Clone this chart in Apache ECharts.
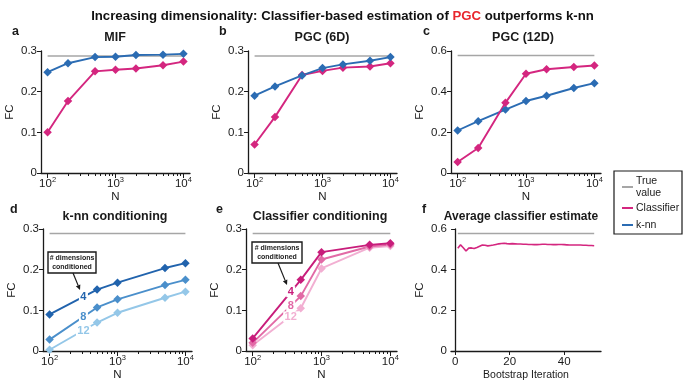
<!DOCTYPE html>
<html>
<head>
<meta charset="UTF-8">
<script src="https://cdn.jsdelivr.net/npm/echarts@6/dist/echarts.min.js"></script>
<style>
html, body { margin: 0; padding: 0; background: #fff; }
#main { width: 685px; height: 384px; }
</style>
</head>
<body>
<div id="main"></div>
<script>
// sample sizes
var nFull = [100, 200, 500, 1000, 2000, 5000, 10000];
var nCond = [100, 500, 1000, 5000, 10000];

// top row
var mifClassifier = [0.100, 0.177, 0.250, 0.254, 0.257, 0.265, 0.274];
var mifKnn = [0.248, 0.270, 0.285, 0.286, 0.290, 0.291, 0.293];
var pgc6Classifier = [0.070, 0.138, 0.241, 0.251, 0.259, 0.262, 0.270];
var pgc6Knn = [0.190, 0.213, 0.240, 0.258, 0.267, 0.276, 0.285];
var pgc12Classifier = [0.054, 0.123, 0.345, 0.488, 0.510, 0.521, 0.529];
var pgc12Knn = [0.209, 0.255, 0.312, 0.354, 0.380, 0.418, 0.442];

// bottom row, conditioning on 4 / 8 / 12 dims
var knnCond4 = [0.090, 0.151, 0.168, 0.204, 0.216];
var knnCond8 = [0.028, 0.107, 0.127, 0.162, 0.175];
var knnCond12 = [0.003, 0.070, 0.094, 0.131, 0.146];
var clsCond4 = [0.031, 0.175, 0.243, 0.261, 0.265];
var clsCond8 = [0.020, 0.135, 0.225, 0.257, 0.262];
var clsCond12 = [0.014, 0.105, 0.203, 0.254, 0.258];

// running average of classifier estimate (iterations 1..51)
var bootstrapAvg = [
  0.505, 0.522, 0.508, 0.492, 0.506, 0.507, 0.504, 0.509, 0.515, 0.521,
  0.520, 0.517, 0.519, 0.521, 0.524, 0.527, 0.529, 0.530, 0.528, 0.527,
  0.528, 0.527, 0.526, 0.526, 0.525, 0.525, 0.524, 0.524, 0.523, 0.523,
  0.524, 0.525, 0.525, 0.524, 0.524, 0.523, 0.523, 0.524, 0.524, 0.523,
  0.522, 0.521, 0.521, 0.521, 0.521, 0.521, 0.520, 0.520, 0.519, 0.519, 0.518
];

// true FC per panel a..f
var trueValue = [0.288, 0.288, 0.578, 0.289, 0.289, 0.578];

var yTicksLow = [0, 0.1, 0.2, 0.3];
var yTicksHigh = [0, 0.2, 0.4, 0.6];
var xTickLabels = [100, 1000, 10000];
var bootTicks = [0, 20, 40];

var FONT = 'Liberation Sans, Arial, sans-serif';
var INK = '#1a1a1a';
var GREY = '#a6a6a6';
var PINK = '#d4267f';
var BLUE = '#2b6cb3';
var BLUES = ['#2163ad', '#4a8fcb', '#94c7e8'];
var PINKS = ['#c81d7b', '#e26aa6', '#f2afd2'];
var TICK_FS = 11.5;

var XMIN = 80, XMAX = 12500;

var grids = [
  { left: 41, top: 51, width: 149, height: 122 },
  { left: 248, top: 51, width: 149, height: 122 },
  { left: 451, top: 51, width: 150, height: 122 },
  { left: 43, top: 229, width: 149, height: 122 },
  { left: 246, top: 229, width: 151, height: 122 },
  { left: 451, top: 229, width: 150, height: 122 }
];

// minor tick spots on the log axes (2..9 x 10^k)
var minorTicks = [];
[100, 1000].forEach(function (d) {
  for (var m = 2; m <= 9; m++) minorTicks.push(Math.log10(m * d));
});

var labelRich = {
  b: { fontSize: TICK_FS, color: INK, fontFamily: FONT, lineHeight: 15 },
  s: { fontSize: 7.5, color: INK, fontFamily: FONT, verticalAlign: 'top', lineHeight: 15, padding: [0, 0, 5, 0] }
};

var xAxes = [];
var yAxes = [];
for (var i = 0; i < 5; i++) {
  xAxes.push({
    gridIndex: i, type: 'log', logBase: 10, min: XMIN, max: XMAX, position: 'bottom',
    axisLine: { lineStyle: { color: INK, width: 1.3 } },
    axisTick: { length: 5, lineStyle: { color: INK, width: 1 } },
    axisLabel: {
      showMinLabel: false, showMaxLabel: false, margin: 3,
      formatter: function (v) {
        if (xTickLabels.indexOf(Math.round(v)) < 0) return '';
        return '{b|10}{s|' + Math.round(Math.log10(v)) + '}';
      },
      rich: labelRich
    },
    splitLine: { show: false },
    name: 'N', nameLocation: 'middle', nameGap: 18,
    nameTextStyle: { fontSize: TICK_FS, color: INK, fontFamily: FONT }
  });
}
xAxes.push({
  gridIndex: 5, type: 'value', min: -1.5, max: 53.5,
  axisLine: { lineStyle: { color: INK, width: 1.3 } },
  axisTick: { customValues: bootTicks, length: 4, lineStyle: { color: INK } },
  axisLabel: { customValues: bootTicks, margin: 5, fontSize: TICK_FS, color: INK, fontFamily: FONT },
  splitLine: { show: false },
  name: 'Bootstrap Iteration', nameLocation: 'middle', nameGap: 19,
  nameTextStyle: { fontSize: 10.5, color: INK, fontFamily: FONT }
});
// extra axes that only draw the short minor ticks
for (var j = 0; j < 5; j++) {
  xAxes.push({
    gridIndex: j, type: 'value', position: 'bottom',
    min: Math.log10(XMIN), max: Math.log10(XMAX),
    axisLine: { show: false },
    axisTick: { customValues: minorTicks, length: 3, lineStyle: { color: INK, width: 1 } },
    axisLabel: { show: false },
    splitLine: { show: false }
  });
}

for (var k = 0; k < 6; k++) {
  var high = (k === 2 || k === 5);
  var ticks = high ? yTicksHigh : yTicksLow;
  yAxes.push({
    gridIndex: k, type: 'value', min: ticks[0], max: ticks[ticks.length - 1],
    interval: ticks[1] - ticks[0],
    axisLine: { show: true, lineStyle: { color: INK, width: 1.3 } },
    axisTick: { show: true, length: 4, lineStyle: { color: INK } },
    axisLabel: {
      margin: 4, fontSize: TICK_FS, color: INK, fontFamily: FONT,
      formatter: function (v) { return v === 0 ? '0' : v.toFixed(1); }
    },
    splitLine: { show: false },
    name: 'FC', nameLocation: 'middle', nameGap: 25,
    nameTextStyle: { fontSize: TICK_FS, color: INK, fontFamily: FONT }
  });
}

function pairs(xs, ys) {
  return xs.map(function (x, i) { return [x, ys[i]]; });
}

function line(gi, xs, ys, color, extra) {
  var s = {
    type: 'line', xAxisIndex: gi, yAxisIndex: gi,
    data: pairs(xs, ys),
    symbol: 'diamond', symbolSize: 8.5,
    itemStyle: { color: color },
    lineStyle: { color: color, width: 1.9 },
    z: 3
  };
  if (extra) for (var key in extra) s[key] = extra[key];
  return s;
}

function truth(gi, x0, x1) {
  return {
    type: 'line', xAxisIndex: gi, yAxisIndex: gi,
    data: [[x0, trueValue[gi]], [x1, trueValue[gi]]],
    symbol: 'none', lineStyle: { color: GREY, width: 1.5 }, z: 2
  };
}

function dimLabel(text, color, coord, w) {
  return {
    symbol: 'rect', symbolSize: [w, 11],
    itemStyle: { color: '#fff' },
    label: {
      show: true, position: 'inside', formatter: text,
      color: color, fontSize: 11, fontWeight: 'bold', fontFamily: FONT
    },
    data: [{ coord: coord }]
  };
}

var series = [
  truth(0, 100, 10000),
  line(0, nFull, mifClassifier, PINK),
  line(0, nFull, mifKnn, BLUE),
  truth(1, 100, 10000),
  line(1, nFull, pgc6Classifier, PINK),
  line(1, nFull, pgc6Knn, BLUE),
  truth(2, 100, 10000),
  line(2, nFull, pgc12Knn, BLUE),
  line(2, nFull, pgc12Classifier, PINK),
  truth(3, 100, 10000),
  line(3, nCond, knnCond12, BLUES[2], { markPoint: dimLabel('12', BLUES[2], [315, 0.049], 15) }),
  line(3, nCond, knnCond8, BLUES[1], { markPoint: dimLabel('8', BLUES[1], [315, 0.083], 9) }),
  line(3, nCond, knnCond4, BLUES[0], { markPoint: dimLabel('4', BLUES[0], [315, 0.132], 9) }),
  truth(4, 100, 10000),
  line(4, nCond, clsCond12, PINKS[2], { markPoint: dimLabel('12', PINKS[2], [357, 0.084], 15) }),
  line(4, nCond, clsCond8, PINKS[1], { markPoint: dimLabel('8', PINKS[1], [357, 0.111], 9) }),
  line(4, nCond, clsCond4, PINKS[0], { markPoint: dimLabel('4', PINKS[0], [357, 0.146], 9) }),
  truth(5, 1, bootstrapAvg.length),
  {
    type: 'line', xAxisIndex: 5, yAxisIndex: 5,
    data: bootstrapAvg.map(function (v, i) { return [i + 1, v]; }),
    symbol: 'none', lineStyle: { color: PINK, width: 1.6 }, z: 3
  }
];

function txt(x, y, text, size, weight, color, align) {
  return {
    type: 'text', x: x, y: y, z: 20,
    style: {
      text: text, fontSize: size, fontWeight: weight || 'normal',
      fill: color || INK, fontFamily: FONT,
      align: align || 'center', verticalAlign: 'middle'
    }
  };
}

function arrow(x1, y1, x2, y2) {
  var dx = x2 - x1, dy = y2 - y1, len = Math.sqrt(dx * dx + dy * dy);
  var ux = dx / len, uy = dy / len;
  var bx = x2 - ux * 5, by = y2 - uy * 5;
  return [
    { type: 'line', z: 20, shape: { x1: x1, y1: y1, x2: bx, y2: by }, style: { stroke: INK, lineWidth: 1.2 } },
    { type: 'polygon', z: 20, shape: { points: [[x2, y2], [bx - uy * 2.4, by + ux * 2.4], [bx + uy * 2.4, by - ux * 2.4]] }, style: { fill: INK } }
  ];
}

function dimBox(x, y, w, h) {
  return [
    { type: 'rect', z: 20, shape: { x: x, y: y, width: w, height: h }, style: { fill: '#fff', stroke: INK, lineWidth: 1.4 } },
    txt(x + w / 2, y + h / 2 - 4.5, '# dimensions', 7, 'bold'),
    txt(x + w / 2, y + h / 2 + 4.5, 'conditioned', 7, 'bold')
  ];
}

var graphics = [
  txt(12, 32, 'a', 12.5, 'bold', INK, 'left'),
  txt(219, 32, 'b', 12.5, 'bold', INK, 'left'),
  txt(423, 32, 'c', 12.5, 'bold', INK, 'left'),
  txt(10, 210, 'd', 12.5, 'bold', INK, 'left'),
  txt(216, 210, 'e', 12.5, 'bold', INK, 'left'),
  txt(422, 210, 'f', 12.5, 'bold', INK, 'left'),
  txt(115, 38, 'MIF', 12.5, 'bold'),
  txt(322, 38, 'PGC (6D)', 12.5, 'bold'),
  txt(523, 38, 'PGC (12D)', 12.5, 'bold'),
  txt(115, 217, 'k-nn conditioning', 12.5, 'bold'),
  txt(320, 217, 'Classifier conditioning', 12.5, 'bold'),
  txt(521, 217, 'Average classifier estimate', 12, 'bold'),
  // legend
  { type: 'rect', z: 20, shape: { x: 614, y: 171, width: 68, height: 63 }, style: { fill: '#fff', stroke: INK, lineWidth: 1.2 } },
  { type: 'line', z: 20, shape: { x1: 622, y1: 187, x2: 633, y2: 187 }, style: { stroke: GREY, lineWidth: 2 } },
  txt(636, 181, 'True', 10.5, 'normal', INK, 'left'),
  txt(636, 193, 'value', 10.5, 'normal', INK, 'left'),
  { type: 'line', z: 20, shape: { x1: 622, y1: 208, x2: 633, y2: 208 }, style: { stroke: PINK, lineWidth: 2 } },
  txt(636, 208, 'Classifier', 10.5, 'normal', INK, 'left'),
  { type: 'line', z: 20, shape: { x1: 622, y1: 225, x2: 633, y2: 225 }, style: { stroke: BLUE, lineWidth: 2 } },
  txt(636, 225, 'k-nn', 10.5, 'normal', INK, 'left')
].concat(dimBox(48, 252, 48, 21), arrow(73, 273, 80, 290),
         dimBox(252, 242, 50, 21), arrow(278, 263, 287, 285));

var myChart = echarts.init(document.getElementById('main'));
var option = {
  animation: false,
  backgroundColor: '#fff',
  textStyle: { fontFamily: FONT },
  title: {
    left: 'center', top: 5,
    text: '{n|Increasing dimensionality: Classifier-based estimation of }{r|PGC}{n| outperforms k-nn}',
    textStyle: {
      rich: {
        n: { fontSize: 13.2, fontWeight: 'bold', color: '#111', fontFamily: FONT },
        r: { fontSize: 13.2, fontWeight: 'bold', color: '#e8262d', fontFamily: FONT }
      }
    }
  },
  grid: grids,
  xAxis: xAxes,
  yAxis: yAxes,
  series: series,
  graphic: graphics
};
myChart.setOption(option);
</script>
</body>
</html>
